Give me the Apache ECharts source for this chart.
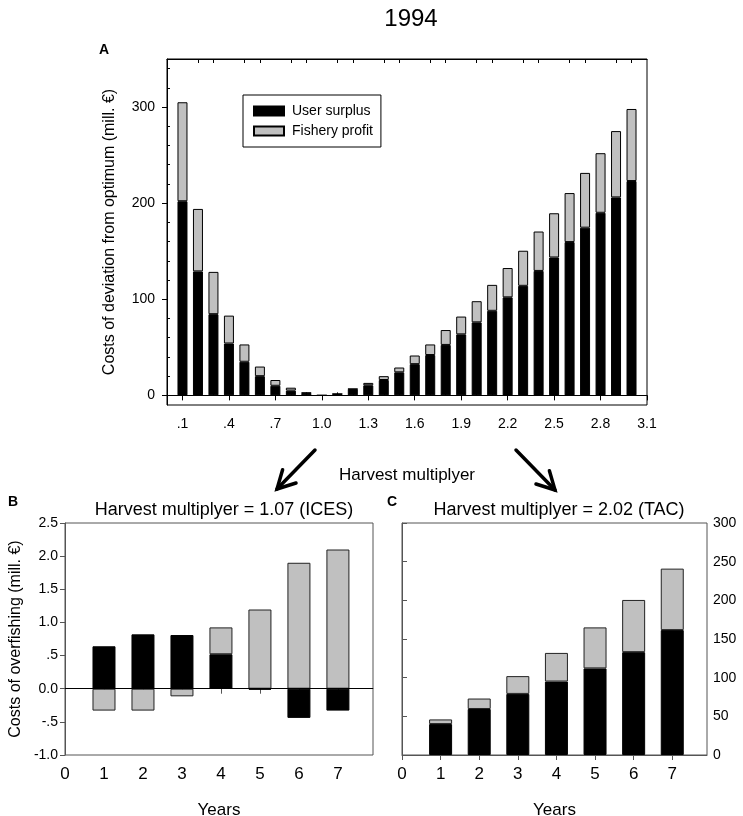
<!DOCTYPE html>
<html>
<head>
<meta charset="utf-8">
<script src="https://cdn.jsdelivr.net/npm/echarts@6.0.0/dist/echarts.min.js"></script>
<style>
  html, body { margin: 0; padding: 0; background: #fff; }
  #main { width: 743px; height: 816px; }
</style>
</head>
<body>
<div id="main"></div>
<script>
// panel A: harvest multiplyer 0.1 .. 3.0
var multA = [0.1,0.2,0.3,0.4,0.5,0.6,0.7,0.8,0.9,1.0,1.1,1.2,1.3,1.4,1.5,1.6,1.7,1.8,1.9,2.0,2.1,2.2,2.3,2.4,2.5,2.6,2.7,2.8,2.9,3.0];
var userA = [202,129,84.5,54,35,20,10,5,2.4,0,1.5,6.5,10.5,16,24,32.5,42,52.5,63.5,76,88,102,114,129.5,143.5,159.5,174.5,190,206,223];
var fishA = [103,65,44,29,18,10,6,3,0.4,0,0,0.3,2.5,4,5,9,11,15.5,18.5,22,27,30.5,36.5,41,46,51,57,62,69,75];
var ticksAxMajor = [0.1,0.4,0.7,1.0,1.3,1.6,1.9,2.2,2.5,2.8,3.1];
var ticksAxMinor = [0.2,0.3,0.5,0.6,0.8,0.9,1.1,1.2,1.4,1.5,1.7,1.8,2.0,2.1,2.3,2.4,2.6,2.7,2.9,3.0];
var ticksAyMajor = [0,100,200,300];
var ticksAyMinor = [20,40,60,80,120,140,160,180,220,240,260,280,320,340];

// panels B and C: years after
var years = [1,2,3,4,5,6,7];
var ticksYears = [0,1,2,3,4,5,6,7];
var userB = [0.64,0.82,0.81,0.52,-0.015,-0.44,-0.33];
var fishB = [-0.33,-0.33,-0.115,0.405,1.195,1.90,2.10];
var userC = [40,59.5,79,95,112,133,161.5];
var fishC = [6,13.5,23,37,53,67.5,79.5];

var font = 'Liberation Sans, Arial, sans-serif';
var black = '#000';
var grey = '#c0c0c0';

// value first, position second, so the stack runs on the value (y) dimension
function pairs(xs, ys) {
  var out = [];
  for (var i = 0; i < xs.length; i++) out.push([ys[i], xs[i]]);
  return out;
}
var enc = { x: 1, y: 0 };

function fmtA(v) {
  var s = (Math.round(v * 10) / 10).toFixed(1);
  return v < 1 ? s.slice(1) : s;
}
function fmtB(v) {
  var a = Math.abs(v);
  var s = a.toFixed(1);
  if (a > 0 && a < 1) s = s.slice(1);
  return (v < 0 ? '-' : '') + s;
}

var zeroLine = {
  silent: true,
  symbol: 'none',
  label: { show: false },
  lineStyle: { color: '#000', type: 'solid', width: 1 },
  data: [{ yAxis: 0 }]
};

function arrow(x1, y1, x2, y2, a1, a2) {
  var st = { stroke: '#000', lineWidth: 3.5, lineCap: 'round', lineJoin: 'miter' };
  return [
    { type: 'line', shape: { x1: x1, y1: y1, x2: x2, y2: y2 }, style: st },
    { type: 'polyline', shape: { points: [a1, [x2, y2], a2] }, style: st }
  ];
}

var chartDom = document.getElementById('main');
var myChart = echarts.init(chartDom, null, { renderer: 'canvas' });

var option = {
  animation: false,
  backgroundColor: '#fff',
  textStyle: { fontFamily: font },
  title: [
    { text: '1994', left: 406, top: 2, textAlign: 'center',
      textStyle: { fontFamily: font, fontSize: 24, fontWeight: 'normal', color: '#000' } },
    { text: 'A', left: 94, top: 38,
      textStyle: { fontFamily: font, fontSize: 14, fontWeight: 'bold', color: '#000' } },
    { text: 'B', left: 3, top: 490,
      textStyle: { fontFamily: font, fontSize: 14, fontWeight: 'bold', color: '#000' } },
    { text: 'C', left: 382, top: 490,
      textStyle: { fontFamily: font, fontSize: 14, fontWeight: 'bold', color: '#000' } },
    { text: 'Harvest multiplyer = 1.07 (ICES)', left: 219, top: 496, textAlign: 'center',
      textStyle: { fontFamily: font, fontSize: 18, fontWeight: 'normal', color: '#000' } },
    { text: 'Harvest multiplyer = 2.02 (TAC)', left: 554, top: 496, textAlign: 'center',
      textStyle: { fontFamily: font, fontSize: 18, fontWeight: 'normal', color: '#000' } }
  ],
  legend: {
    left: 243,
    top: 95,
    orient: 'vertical',
    icon: 'rect',
    backgroundColor: '#fff',
    borderColor: '#000',
    borderWidth: 1,
    padding: [9, 8, 9, 10],
    itemWidth: 30,
    itemHeight: 9,
    itemGap: 6,
    data: ['User surplus', 'Fishery profit'],
    textStyle: { fontFamily: font, fontSize: 14, color: '#000', padding: [0, 0, 0, 3] }
  },
  grid: [
    { left: 167, top: 59, width: 480, height: 346, show: true, borderColor: '#000', borderWidth: 1,
      outerBoundsMode: 'none' },
    { left: 65, top: 523, width: 308, height: 232, show: true, borderColor: '#555', borderWidth: 1,
      outerBoundsMode: 'none' },
    { left: 402, top: 523, width: 305, height: 232, show: true, borderColor: '#555', borderWidth: 1,
      outerBoundsMode: 'none' }
  ],
  xAxis: [
    // A bottom: labels and long ticks
    { gridIndex: 0, type: 'value', min: 0, max: 3.1, position: 'bottom',
      name: 'Harvest multiplyer', nameLocation: 'middle', nameGap: 62,
      nameTextStyle: { fontFamily: font, fontSize: 17, color: '#000' },
      axisLine: { lineStyle: { color: '#000' } },
      axisTick: { customValues: ticksAxMajor, length: 5, lineStyle: { color: '#000' } },
      axisLabel: { customValues: ticksAxMajor, formatter: fmtA, margin: 12, color: '#000', fontFamily: font, fontSize: 14 },
      splitLine: { show: false } },
    // A bottom: minor ticks inside
    { gridIndex: 0, type: 'value', min: 0, max: 3.1, position: 'bottom',
      axisLine: { show: false },
      axisTick: { customValues: ticksAxMinor, inside: true, length: 3, lineStyle: { color: '#000' } },
      axisLabel: { show: false }, splitLine: { show: false } },
    // A top: minor ticks inside
    { gridIndex: 0, type: 'value', min: 0, max: 3.1, position: 'top',
      axisLine: { lineStyle: { color: '#000' } },
      axisTick: { customValues: ticksAxMinor, inside: true, length: 4, lineStyle: { color: '#000' } },
      axisLabel: { show: false }, splitLine: { show: false } },
    // B
    { gridIndex: 1, type: 'value', min: 0, max: 7.9,
      name: 'Years', nameLocation: 'middle', nameGap: 47,
      nameTextStyle: { fontFamily: font, fontSize: 17, color: '#000' },
      axisLine: { lineStyle: { color: '#555' } },
      axisTick: { customValues: ticksYears, length: 5, lineStyle: { color: '#555' } },
      axisLabel: { customValues: ticksYears, margin: 11, color: '#000', fontFamily: font, fontSize: 17 },
      splitLine: { show: false } },
    // C
    { gridIndex: 2, type: 'value', min: 0, max: 7.9,
      name: 'Years', nameLocation: 'middle', nameGap: 47,
      nameTextStyle: { fontFamily: font, fontSize: 17, color: '#000' },
      axisLine: { lineStyle: { color: '#555' } },
      axisTick: { customValues: ticksYears, length: 5, lineStyle: { color: '#555' } },
      axisLabel: { customValues: ticksYears, margin: 11, color: '#000', fontFamily: font, fontSize: 17 },
      splitLine: { show: false } }
  ],
  yAxis: [
    // A: labels and major ticks
    { gridIndex: 0, type: 'value', min: -10, max: 350,
      name: 'Costs of deviation from optimum (mill. €)', nameLocation: 'middle', nameGap: 49,
      nameMoveOverlap: false,
      nameTextStyle: { fontFamily: font, fontSize: 16, color: '#000' },
      axisLine: { show: true, lineStyle: { color: '#000' } },
      axisTick: { show: true, customValues: ticksAyMajor, length: 5, lineStyle: { color: '#000' } },
      axisLabel: { customValues: ticksAyMajor, margin: 12, color: '#000', fontFamily: font, fontSize: 14 },
      splitLine: { show: false } },
    // A: minor ticks
    { gridIndex: 0, type: 'value', min: -10, max: 350,
      axisLine: { show: false },
      axisTick: { show: true, customValues: ticksAyMinor, length: 3, lineStyle: { color: '#000' } },
      axisLabel: { show: false }, splitLine: { show: false } },
    // B
    { gridIndex: 1, type: 'value', min: -1, max: 2.5, interval: 0.5,
      name: 'Costs of overfishing (mill. €)', nameLocation: 'middle', nameGap: 41,
      nameMoveOverlap: false,
      nameTextStyle: { fontFamily: font, fontSize: 16, color: '#000' },
      axisLine: { show: true, lineStyle: { color: '#555' } },
      axisTick: { show: true, length: 5, lineStyle: { color: '#555' } },
      axisLabel: { formatter: fmtB, margin: 7, color: '#000', fontFamily: font, fontSize: 14 },
      splitLine: { show: false } },
    // C (right side)
    { gridIndex: 2, type: 'value', min: 0, max: 300, interval: 50, position: 'right',
      axisLine: { show: true, lineStyle: { color: '#555' } },
      axisTick: { show: true, length: 5, lineStyle: { color: '#555' } },
      axisLabel: { margin: 6, color: '#000', fontFamily: font, fontSize: 14 },
      splitLine: { show: false } }
  ],
  graphic: [].concat(
    arrow(315, 450, 277, 489, [282.6, 469.8], [296, 483]),
    arrow(516, 450, 555, 490, [549.4, 470.8], [536, 484])
  ),
  series: [
    { name: 'User surplus', type: 'bar', xAxisIndex: 0, yAxisIndex: 0, stack: 'a',
      barWidth: 10, encode: enc, data: pairs(multA, userA),
      itemStyle: { color: black, borderColor: '#000', borderWidth: 1 },
      markLine: zeroLine },
    { name: 'Fishery profit', type: 'bar', xAxisIndex: 0, yAxisIndex: 0, stack: 'a',
      barWidth: 10, encode: enc, data: pairs(multA, fishA),
      itemStyle: { color: grey, borderColor: '#000', borderWidth: 1 } },
    { name: 'User surplus', type: 'bar', xAxisIndex: 3, yAxisIndex: 2, stack: 'b',
      barWidth: 23, encode: enc, data: pairs(years, userB),
      itemStyle: { color: black, borderColor: '#000', borderWidth: 1 },
      markLine: zeroLine },
    { name: 'Fishery profit', type: 'bar', xAxisIndex: 3, yAxisIndex: 2, stack: 'b',
      barWidth: 23, encode: enc, data: pairs(years, fishB),
      itemStyle: { color: grey, borderColor: '#222', borderWidth: 1 } },
    { name: 'User surplus', type: 'bar', xAxisIndex: 4, yAxisIndex: 3, stack: 'c',
      barWidth: 23, encode: enc, data: pairs(years, userC),
      itemStyle: { color: black, borderColor: '#000', borderWidth: 1 } },
    { name: 'Fishery profit', type: 'bar', xAxisIndex: 4, yAxisIndex: 3, stack: 'c',
      barWidth: 23, encode: enc, data: pairs(years, fishC),
      itemStyle: { color: grey, borderColor: '#222', borderWidth: 1 } }
  ]
};

option && myChart.setOption(option);
</script>
</body>
</html>
